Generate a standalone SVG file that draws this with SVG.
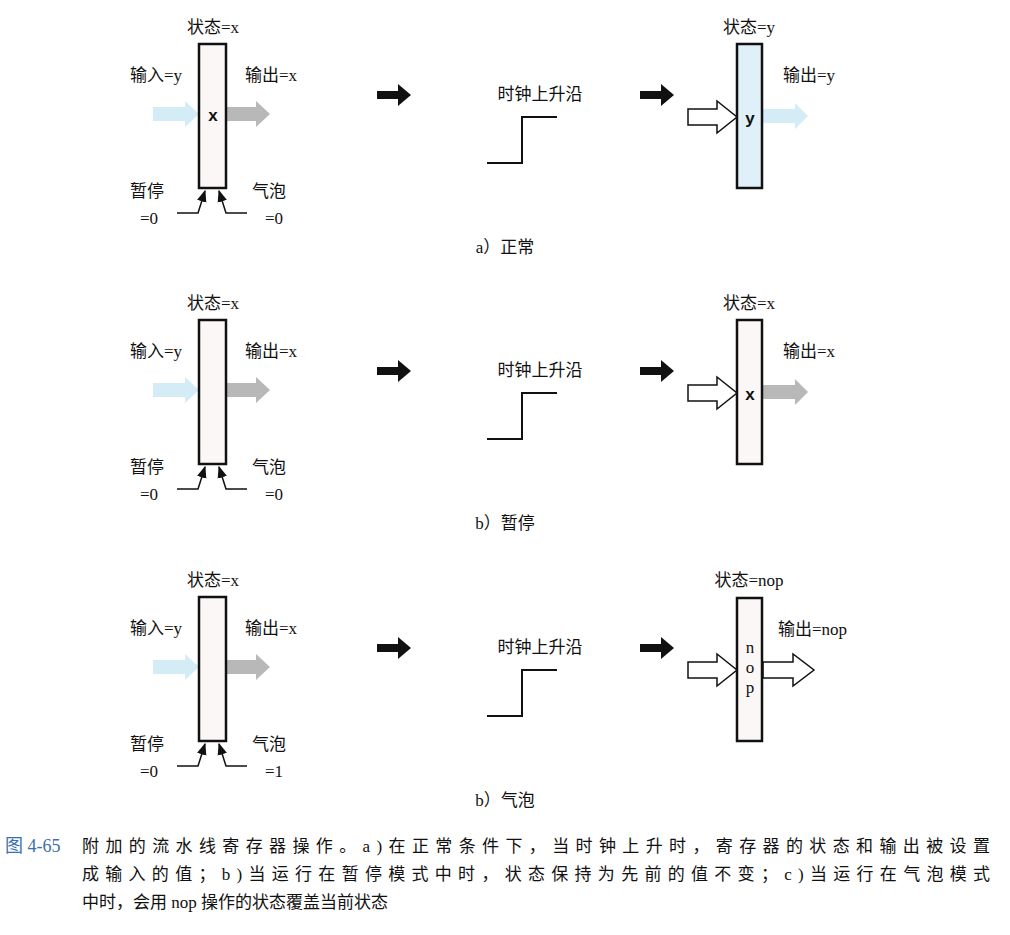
<svg xmlns="http://www.w3.org/2000/svg" width="1010" height="935" viewBox="0 0 1010 935">
<style>
text{font-family:"Liberation Serif","Noto Sans CJK SC",serif;font-size:17px;fill:#111}
.c{text-anchor:middle}
.b{font-family:"Liberation Sans","Noto Sans CJK SC",sans-serif;font-weight:bold;font-size:17px}
.reg{fill:#fbf7f7;stroke:#111;stroke-width:2.5}
.regb{fill:#dff0f8;stroke:#111;stroke-width:2.5}
.ln{fill:none;stroke:#111;stroke-width:1.5}
.clk{fill:none;stroke:#111;stroke-width:2}
.hollow{fill:#fff;stroke:#111;stroke-width:1.5}
.blue{fill:#d4ecf6}
.gray{fill:#b8b8b8}
.cap{font-size:20.5px}
</style>
<defs>
<marker id="ah" viewBox="0 0 10 10" refX="9" refY="5" markerWidth="8" markerHeight="8" orient="auto"><path d="M0,1 L10,5 L0,9 z" fill="#111"/></marker>
<g id="left">
<text class="c" x="213" y="33">状态=x</text>
<text x="130" y="81">输入=y</text>
<path class="blue" d="M153,107 H185 V101 L199,114 L185,127 V121 H153 z"/>
<path class="gray" d="M227,107 H256 V101 L270,114 L256,127 V121 H227 z"/>
<rect class="reg" x="199" y="44" width="27" height="144"/>
<text x="130" y="197">暂停</text>
<text x="140" y="224">=0</text>
<text x="252" y="197">气泡</text>
<g class="ln"><path d="M177,213 H198 L205,191" marker-end="url(#ah)"/><path d="M247,213 H226 L219,191" marker-end="url(#ah)"/></g>
<path d="M377,91 H398 V84 L411,95 L398,106 V99 H377 z" fill="#111"/>
<text class="c" x="540" y="100">时钟上升沿</text>
<path class="clk" d="M487,163 H522 V117 H557"/>
<path d="M640,91 H661 V84 L674,95 L661,106 V99 H640 z" fill="#111"/>
</g>
<path id="hin" class="hollow" d="M688,109 H717 V101 L737,117 L717,133 V125 H688 z"/>
</defs>
<g id="panelA">
<use href="#left"/>
<text x="265" y="224">=0</text>
<text x="245" y="81">输出=x</text>
<text class="b c" x="213" y="121">x</text>
<text class="c" x="749" y="33">状态=y</text>
<text x="783" y="81">输出=y</text>
<path class="blue" d="M763,109 H795 V103 L808,116 L795,129 V123 H763 z"/>
<use href="#hin"/>
<rect class="regb" x="737" y="44" width="25" height="144"/>
<text class="b c" x="750" y="124">y</text>
<text class="c" x="505" y="253">a）正常</text>
</g>
<g id="panelB" transform="translate(0,276)">
<use href="#left"/>
<text x="265" y="224">=0</text>
<text x="245" y="81">输出=x</text>
<text class="c" x="749" y="33">状态=x</text>
<text x="783" y="81">输出=x</text>
<path class="gray" d="M763,109 H795 V103 L808,116 L795,129 V123 H763 z"/>
<use href="#hin"/>
<rect class="reg" x="737" y="44" width="25" height="144"/>
<text class="b c" x="750" y="124">x</text>
<text class="c" x="505" y="253">b）暂停</text>
</g>
<g id="panelC" transform="translate(0,553)">
<use href="#left"/>
<text x="265" y="224">=1</text>
<text x="245" y="81">输出=x</text>
<text class="c" x="749" y="33">状态=nop</text>
<text x="778" y="82">输出=nop</text>
<use href="#hin"/>
<path class="hollow" d="M763,109 H793 V101 L814,117 L793,133 V125 H763 z"/>
<rect class="reg" x="737" y="45" width="25" height="143"/>
<text class="c" x="750" y="100">n</text>
<text class="c" x="750" y="120">o</text>
<text class="c" x="750" y="140">p</text>
<text class="c" x="505" y="253">b）气泡</text>
</g>
<g id="caption" class="cap">
<text x="5" y="852" style="fill:#3a6fb0;font-size:18px">图 4-65</text>
<text x="82" y="852" textLength="908" lengthAdjust="spacing">附加的流水线寄存器操作。a)在正常条件下，当时钟上升时，寄存器的状态和输出被设置</text>
<text x="82" y="880" textLength="908" lengthAdjust="spacing">成输入的值；b)当运行在暂停模式中时，状态保持为先前的值不变；c)当运行在气泡模式</text>
<text x="82" y="908">中时，会用 nop 操作的状态覆盖当前状态</text>
</g>
</svg>
